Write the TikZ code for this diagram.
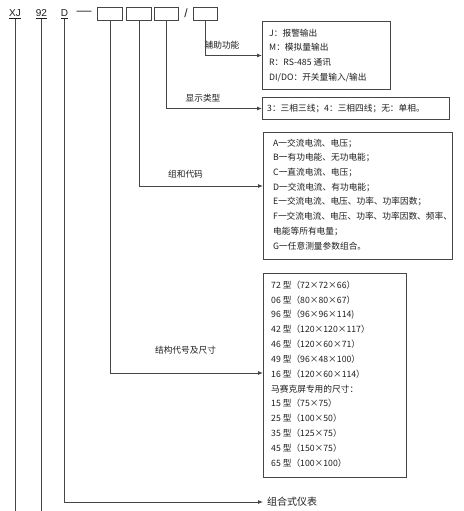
\documentclass[tikz,border=0pt]{standalone}
\usepackage{fontspec}
\setmainfont{Liberation Sans}
\newfontfamily\cjk{Noto Sans CJK SC}
\usetikzlibrary{arrows.meta}
\definecolor{lc}{RGB}{70,70,70}
\definecolor{tc}{RGB}{30,30,30}
\begin{document}
\begin{tikzpicture}[x=1pt,y=-1pt,
  ln/.style={draw=lc, line width=0.8pt},
  arr/.style={ln,-{Latex[length=5pt,width=4pt]}},
  hbox/.style={draw=lc,line width=0.9pt,minimum width=25pt,minimum height=13pt,inner sep=0pt,anchor=north west},
  bx/.style={draw=lc,line width=1pt,inner sep=0pt,anchor=north west},
  txt/.style={font=\cjk\fontsize{8.7}{14.7}\selectfont,align=left,inner sep=0pt,text=tc,anchor=north west},
  lbl/.style={font=\cjk\fontsize{8.7}{10}\selectfont,inner sep=0pt,text=tc},
  hd/.style={font=\fontsize{10}{12}\selectfont,inner sep=0pt,text=tc}
]
\useasboundingbox (0,0) rectangle (463,511);

% header
\node[hd] (xj) at (15,14) {\underline{XJ}};
\node[hd] (n92) at (41.5,14) {\underline{92}};
\node[hd] (d) at (64.5,14) {\underline{D}};
\node[font=\rmfamily\fontsize{15}{15}\selectfont,inner sep=0pt,text=lc] (dash) at (84,13) {—};
\node[hbox] (b1) at (97,7) {};
\node[hbox] (b2) at (126,7) {};
\node[hbox,minimum width=24pt] (b3) at (154,7) {};
\node[hd,font=\fontsize{12}{12}\selectfont] (sl) at (186,13) {/};
\node[hbox,minimum width=24pt] (b4) at (193,7) {};

% right boxes
\node[bx,minimum width=128pt,minimum height=68pt] (boxA) at (262,21) {};
\node[txt] (tA) at (269,28.6) {J：报警输出\\M：模拟量输出\\R：RS-485 通讯\\DI/DO：开关量输入/输出};

\node[bx,minimum width=187pt,minimum height=22pt] (boxB) at (262,97) {};
\node[txt] (tB) at (267,103.6) {3：三相三线；4：三相四线；无：单相。};

\node[bx,minimum width=189pt,minimum height=127pt] (boxC) at (263,132) {};
\node[txt] (tC) at (273,138.6) {A一交流电流、电压；\\B一有功电能、无功电能；\\C一直流电流、电压；\\D一交流电流、有功电能；\\E一交流电流、电压、功率、功率因数；\\F一交流电流、电压、功率、功率因数、频率、\\电能等所有电量；\\G一任意测量参数组合。};

\node[bx,minimum width=143pt,minimum height=204pt] (boxD) at (263,273) {};
\node[txt,font=\cjk\fontsize{8.7}{14.83}\selectfont] (tD) at (271,280.6) {72 型（72×72×66）\\06 型（80×80×67）\\96 型（96×96×114)\\42 型（120×120×117）\\46 型（120×60×71）\\49 型（96×48×100）\\16 型（120×60×114）\\马赛克屏专用的尺寸：\\15 型（75×75）\\25 型（100×50）\\35 型（125×75）\\45 型（150×75）\\65 型（100×100）};

% labels
\node[lbl] (lA) at (222,45) {辅助功能};
\node[lbl] (lB) at (203,98) {显示类型};
\node[lbl] (lC) at (185.5,174) {组和代码};
\node[lbl] (lD) at (185.5,350) {结构代号及尺寸};
\node[lbl,font=\cjk\fontsize{10}{12}\selectfont,anchor=west] (zh) at (267,502) {组合式仪表};

% coordinates
\coordinate (bot) at (0,511);
\coordinate (cC) at (263,186);
\coordinate (cD) at (263,373);

% connectors
\draw[ln] (xj.south) -- (xj.south |- bot);
\draw[ln] (n92.south) -- (n92.south |- bot);
\draw[arr,shorten >=4pt] (d.south) |- (zh.west);
\draw[arr] (b1.south) |- (cD);
\draw[arr] (b2.south) |- (cC);
\draw[arr] (b3.south) |- (boxB.west);
\draw[arr] (b4.south) |- (boxA.west);
\end{tikzpicture}
\end{document}
